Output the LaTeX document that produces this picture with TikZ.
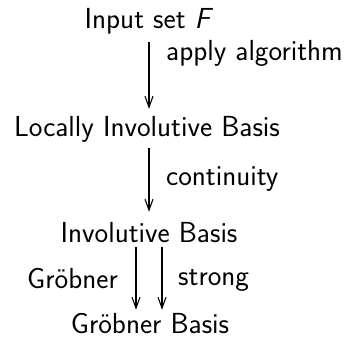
\documentclass[tikz,border=0pt]{standalone}
\usetikzlibrary{arrows.meta}
\begin{document}
\begin{tikzpicture}[x=1pt,y=-1pt,
  lbl/.style={font=\fontsize{29}{32}\sffamily, inner sep=0pt, anchor=base},
  obj/.style={lbl, text height=20pt, text depth=6pt},
  arr/.style={line width=1.1pt, -{Straight Barb[length=11pt,width=8pt,line width=1.1pt]}}]
\useasboundingbox (0,0) rectangle (356,340);
\node[obj] (in) at (149,28) {Input set \textit{F}};
\node[obj] (loc) at (147,136) {Locally Involutive Basis};
\node[obj] (inv) at (149,242) {Involutive Basis};
\node[obj, text depth=0pt] (gb) at (150,333) {Gr\"obner Basis};
\draw[arr, shorten <=8pt, shorten >=7pt] (in.south -| inv) -- (loc.north -| inv);
\node[lbl, anchor=base west] (l1) at (166,60) {apply algorithm};
\draw[arr, shorten <=6pt, shorten >=10pt] (loc.south -| inv) -- (inv.north);
\node[lbl, anchor=base west] (l2) at (166,185) {continuity};
\draw[arr, shorten <=-1pt, shorten >=3pt] ([xshift=-13pt]inv.south) -- ([xshift=-13pt]inv.south |- gb.north);
\draw[arr, shorten <=-1pt, shorten >=3pt] ([xshift=13pt]inv.south) -- ([xshift=13pt]inv.south |- gb.north);
\node[lbl, anchor=base east] (l3) at (118,288) {Gr\"obner};
\node[lbl, anchor=base west] (l4) at (178,285) {strong};
\end{tikzpicture}
\end{document}
